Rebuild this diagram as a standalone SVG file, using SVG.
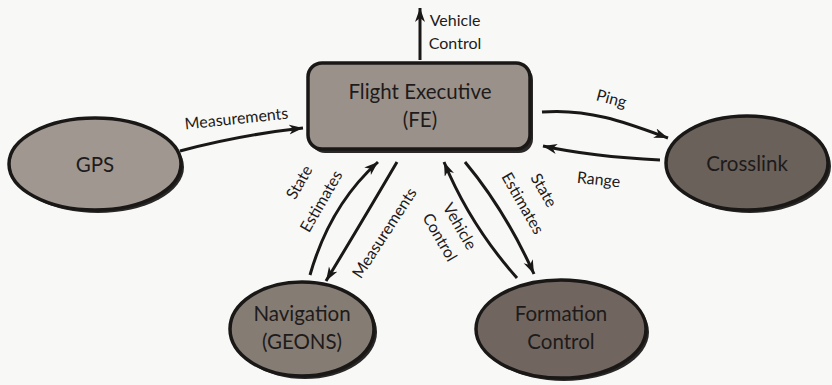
<svg xmlns="http://www.w3.org/2000/svg" width="832" height="385" viewBox="0 0 832 385">
  <style>
    .node { stroke: #1a1817; stroke-width: 3.5; }
    .shadow { fill: #2b2827; }
    .nlabel { font-family: "Lato", "Open Sans", sans-serif; font-size: 20.5px; fill: #1e1b1a; text-anchor: middle; }
    .elabel { font-family: "Lato", "Open Sans", sans-serif; font-size: 16px; fill: #1e1b1a; text-anchor: middle; }
    .conn { fill: none; stroke: #1a1817; stroke-width: 3; marker-end: url(#stealth); }
  </style>
  <defs>
    <marker id="stealth" markerUnits="userSpaceOnUse" markerWidth="16" markerHeight="12" refX="14" refY="5" orient="auto">
      <path d="M0,0 L14,5 L0,10 L4,5 z" fill="#1a1817"/>
    </marker>
  </defs>

  <rect width="832" height="385" fill="#f8f8f7"/>

  <!-- Flight Executive -->
  <g id="fe">
    <rect class="shadow" x="311" y="66" width="222" height="87" rx="14"/>
    <rect class="node" x="308" y="63" width="222" height="86" rx="14" fill="#9a928a"/>
    <text class="nlabel" x="420" y="99">Flight Executive</text>
    <text class="nlabel" x="420" y="127">(FE)</text>
  </g>

  <!-- GPS -->
  <g id="gps">
    <ellipse class="shadow" cx="98" cy="167" rx="86" ry="46"/>
    <ellipse class="node" cx="95" cy="164" rx="86" ry="46" fill="#a09890"/>
    <text class="nlabel" x="95" y="172">GPS</text>
  </g>

  <!-- Crosslink -->
  <g id="crosslink">
    <ellipse class="shadow" cx="750" cy="166" rx="81" ry="47"/>
    <ellipse class="node" cx="747" cy="163" rx="81" ry="47" fill="#6a615a"/>
    <text class="nlabel" x="747" y="171">Crosslink</text>
  </g>

  <!-- Navigation (GEONS) -->
  <g id="navigation">
    <ellipse class="shadow" cx="305" cy="332" rx="72" ry="47"/>
    <ellipse class="node" cx="302" cy="329" rx="72" ry="47" fill="#857c74"/>
    <text class="nlabel" x="302" y="321">Navigation</text>
    <text class="nlabel" x="302" y="349">(GEONS)</text>
  </g>

  <!-- Formation Control -->
  <g id="formation">
    <ellipse class="shadow" cx="564" cy="332" rx="85" ry="49"/>
    <ellipse class="node" cx="561" cy="329" rx="85" ry="49" fill="#70665f"/>
    <text class="nlabel" x="561" y="321">Formation</text>
    <text class="nlabel" x="561" y="349">Control</text>
  </g>

  <!-- Connectors -->
  <g id="connectors">
    <path class="conn" d="M420,60 L420,8"/>
    <path class="conn" d="M180,151 Q240,135 303,128"/>
    <path class="conn" d="M542,112 C590,108 630,124 668,138"/>
    <path class="conn" d="M660,160 C620,158 575,153 543,146"/>
    <path class="conn" d="M310,275 Q330,205 378,162"/>
    <path class="conn" d="M397,162 Q360,225 326,281"/>
    <path class="conn" d="M517,278 Q470,225 444,162"/>
    <path class="conn" d="M465,162 Q505,210 534,274"/>

    <!-- connector labels -->
    <text class="elabel" x="455" y="26">Vehicle</text>
    <text class="elabel" x="455" y="49">Control</text>
    <text class="elabel" x="237" y="124" transform="rotate(-6 237 124)">Measurements</text>
    <text class="elabel" x="610" y="104" transform="rotate(15 610 104)">Ping</text>
    <text class="elabel" x="598" y="185" transform="rotate(6 598 185)">Range</text>
    <text class="elabel" transform="translate(304 185) rotate(-60)">State</text>
    <text class="elabel" transform="translate(326 204) rotate(-60)">Estimates</text>
    <text class="elabel" transform="translate(389 236) rotate(-57)">Measurements</text>
    <text class="elabel" transform="translate(455 229) rotate(60)">Vehicle</text>
    <text class="elabel" transform="translate(435 240) rotate(60)">Control</text>
    <text class="elabel" transform="translate(539 193) rotate(60)">State</text>
    <text class="elabel" transform="translate(518 206) rotate(60)">Estimates</text>
  </g>
</svg>
